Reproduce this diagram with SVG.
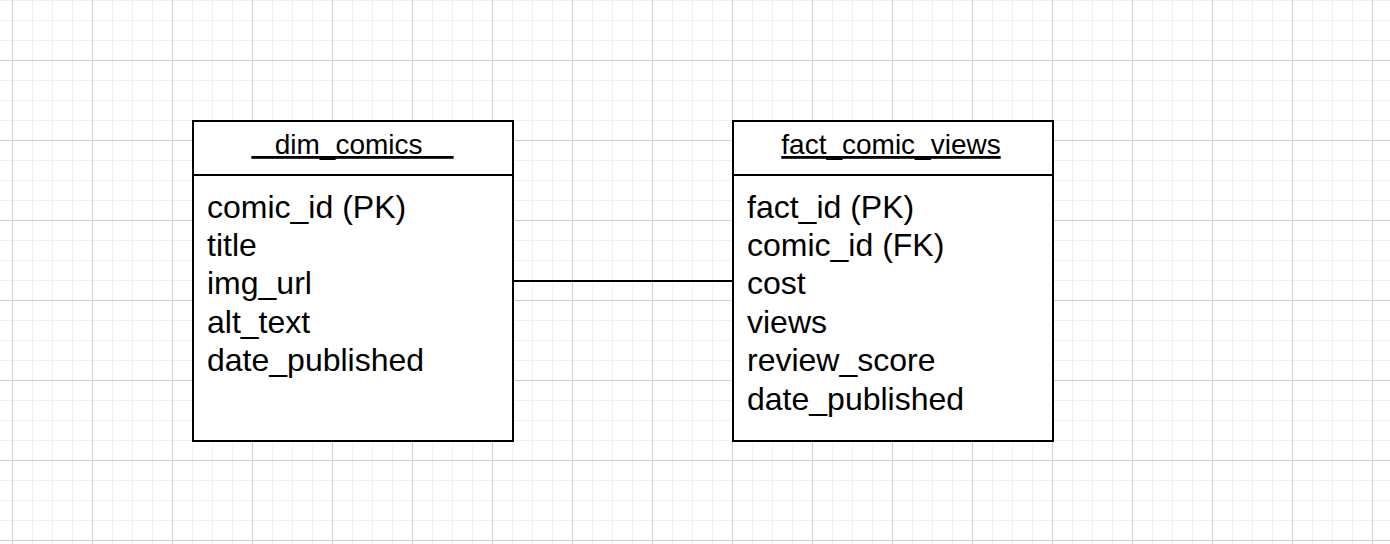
<svg xmlns="http://www.w3.org/2000/svg" width="1390" height="544" viewBox="0 0 1390 544">
  <style>
    .box { fill: #ffffff; stroke: #000000; stroke-width: 2; }
    .div { stroke: #000000; stroke-width: 2; fill: none; }
    .title { font-family: "Liberation Sans", Arial, Helvetica, sans-serif; font-size: 28px; fill: #000000; text-anchor: middle; text-decoration: underline; }
    .row { font-family: "Liberation Sans", Arial, Helvetica, sans-serif; font-size: 32px; fill: #000000; }
    .edge { stroke: #000000; stroke-width: 2; fill: none; }
  </style>
  <defs>
    <pattern id="grid" patternUnits="userSpaceOnUse" x="12" y="60" width="80" height="80">
      <path d="M20.5 0V80M40.5 0V80M60.5 0V80M0 20.5H80M0 40.5H80M0 60.5H80" stroke="#f0f0f0" stroke-width="1" fill="none"/>
      <path d="M0.5 0V80M0 0.5H80" stroke="#d0d0d0" stroke-width="1" fill="none"/>
    </pattern>
  </defs>
  <rect x="0" y="0" width="1390" height="544" fill="#ffffff"/>
  <rect x="0" y="0" width="1390" height="544" fill="url(#grid)"/>

  <g id="connectors">
    <line class="edge" x1="513" y1="281" x2="733" y2="281"/>
  </g>

  <g id="dim_comics">
    <rect class="box" x="193" y="121" width="320" height="320"/>
    <line class="div" x1="193" y1="175" x2="513" y2="175"/>
    <text class="title" x="352.5" y="154">&#160;&#160;&#160;dim_comics&#160;&#160;&#160;&#160;</text>
    <text class="row" x="207" y="217.5">comic_id (PK)</text>
    <text class="row" x="207" y="255.9">title</text>
    <text class="row" x="207" y="294.3">img_url</text>
    <text class="row" x="207" y="332.7">alt_text</text>
    <text class="row" x="207" y="371.1">date_published</text>
  </g>

  <g id="fact_comic_views">
    <rect class="box" x="733" y="121" width="320" height="320"/>
    <line class="div" x1="733" y1="175" x2="1053" y2="175"/>
    <text class="title" x="891" y="154">fact_comic_views</text>
    <text class="row" x="747" y="217.5">fact_id (PK)</text>
    <text class="row" x="747" y="255.9">comic_id (FK)</text>
    <text class="row" x="747" y="294.3">cost</text>
    <text class="row" x="747" y="332.7">views</text>
    <text class="row" x="747" y="371.1">review_score</text>
    <text class="row" x="747" y="409.5">date_published</text>
  </g>
</svg>
